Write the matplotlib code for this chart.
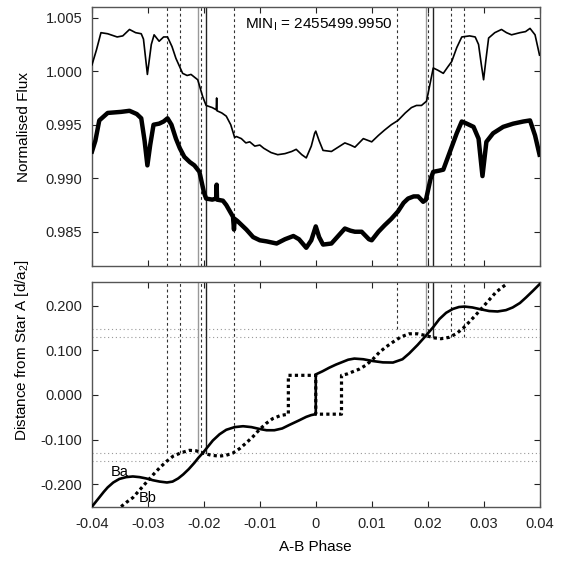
import numpy as np
import matplotlib
matplotlib.use('Agg')
import matplotlib.pyplot as plt

plt.rcParams['font.family'] = ['Liberation Sans', 'DejaVu Sans']
plt.rcParams['mathtext.fontset'] = 'custom'
plt.rcParams['mathtext.rm'] = 'Liberation Sans'
plt.rcParams['axes.unicode_minus'] = False

# Light curve, unbinned (thin) and binned (thick)
upper_phase = [-0.0400, -0.0392, -0.0384, -0.0372, -0.0355, -0.0345, -0.0333, -0.0322, -0.0312, -0.0308,
               -0.0301, -0.0294, -0.0289, -0.0280, -0.0272, -0.0265, -0.0257, -0.0250, -0.0238, -0.0230,
               -0.0223, -0.0211, -0.0202, -0.0196, -0.0185, -0.0178, -0.01772, -0.01765, -0.0168, -0.0160,
               -0.0152, -0.0145, -0.0142, -0.0133, -0.0125, -0.0118, -0.0109, -0.0100, -0.0093, -0.0080,
               -0.0068, -0.0055, -0.0043, -0.0035, -0.0025, -0.0017, -0.0008, -0.0002, 0.0000, 0.0006,
               0.0013, 0.0028, 0.0040, 0.0052, 0.0062, 0.0070, 0.0085, 0.0100, 0.0112, 0.0123,
               0.0135, 0.0147, 0.0160, 0.0171, 0.0180, 0.0189, 0.0198, 0.0210, 0.0218, 0.0228,
               0.0236, 0.0243, 0.0252, 0.0261, 0.0275, 0.0285, 0.0291, 0.0296, 0.0300, 0.0304,
               0.0309, 0.0320, 0.0332, 0.0341, 0.0350, 0.0365, 0.0375, 0.0383, 0.0392, 0.0400]
upper_flux = [1.0006, 1.0020, 1.0036, 1.0035, 1.0032, 1.0033, 1.0039, 1.0036, 1.0035, 1.0030,
              0.9997, 1.0025, 1.0034, 1.0028, 1.0032, 1.0032, 1.0023, 1.0012, 0.9998, 0.9996,
              0.9997, 0.9992, 0.9976, 0.9968, 0.9966, 0.9964, 0.9975, 0.9963, 0.9961, 0.9958,
              0.9950, 0.9938, 0.9939, 0.9937, 0.9933, 0.9934, 0.9930, 0.9931, 0.9928, 0.9924,
              0.9922, 0.9923, 0.9925, 0.9927, 0.9922, 0.9919, 0.9930, 0.9942, 0.9944, 0.9935,
              0.9926, 0.9925, 0.9929, 0.9933, 0.9931, 0.9929, 0.9937, 0.9934, 0.9940, 0.9945,
              0.9950, 0.9954, 0.9961, 0.9966, 0.9968, 0.9968, 0.9972, 1.0003, 1.0001, 0.9998,
              1.0004, 1.0009, 1.0022, 1.0032, 1.0033, 1.0032, 1.0025, 1.0006, 0.9992, 1.0010,
              1.0031, 1.0036, 1.0039, 1.0036, 1.0034, 1.0036, 1.0037, 1.0040, 1.0034, 1.0015]

lower_phase = [-0.0400, -0.0394, -0.0387, -0.0372, -0.0348, -0.0333, -0.0320, -0.0312, -0.0306, -0.0301,
               -0.0296, -0.0290, -0.0280, -0.0272, -0.0265, -0.0258, -0.0250, -0.0243, -0.0235, -0.0225,
               -0.0217, -0.0208, -0.0200, -0.0196, -0.0185, -0.0178, -0.01772, -0.01765, -0.0166, -0.0160,
               -0.0148, -0.01462, -0.0145, -0.0140, -0.0124, -0.0112, -0.0100, -0.0088, -0.0070, -0.0055,
               -0.0040, -0.0030, -0.0017, -0.0008, 0.0000, 0.0006, 0.0013, 0.0028, 0.0040, 0.0052,
               0.0062, 0.0070, 0.0082, 0.0095, 0.0100, 0.0112, 0.0123, 0.0135, 0.0147, 0.0157,
               0.0165, 0.0175, 0.0183, 0.0192, 0.0197, 0.0205, 0.0210, 0.0220, 0.0228, 0.0240,
               0.0252, 0.0261, 0.0270, 0.0282, 0.0291, 0.0298, 0.0305, 0.0317, 0.0335, 0.0353,
               0.0371, 0.0383, 0.0392, 0.0400]
lower_flux = [0.9925, 0.9935, 0.9954, 0.9961, 0.9962, 0.9963, 0.9960, 0.9956, 0.9935, 0.9912,
              0.9931, 0.9950, 0.9951, 0.9953, 0.9956, 0.9950, 0.9937, 0.9928, 0.9920, 0.9915,
              0.9912, 0.9906, 0.9887, 0.9881, 0.9880, 0.9881, 0.9894, 0.9880, 0.9879, 0.9875,
              0.9864, 0.9852, 0.9862, 0.9860, 0.9852, 0.9845, 0.9842, 0.9841, 0.9839, 0.9843,
              0.9846, 0.9843, 0.9835, 0.9842, 0.9855, 0.9845, 0.9838, 0.9839, 0.9846, 0.9853,
              0.9851, 0.9850, 0.9850, 0.9843, 0.9842, 0.9850, 0.9856, 0.9862, 0.9869, 0.9877,
              0.9881, 0.9883, 0.9883, 0.9878, 0.9880, 0.9899, 0.9906, 0.9907, 0.9908, 0.9925,
              0.9942, 0.9953, 0.9951, 0.9948, 0.9937, 0.9902, 0.9934, 0.9942, 0.9948, 0.9951,
              0.9953, 0.9954, 0.9940, 0.9922]

# Projected distance of Ba and Bb from star A
ba_phase = [-0.0400, -0.0393, -0.0386, -0.0379, -0.0372, -0.0362, -0.0351, -0.0339, -0.0327, -0.0315,
            -0.0303, -0.0291, -0.0279, -0.0266, -0.0256, -0.0246, -0.0237, -0.0227, -0.0217, -0.0210,
            -0.0202, -0.0193, -0.0184, -0.0172, -0.0160, -0.0145, -0.0130, -0.0115, -0.0101, -0.0088,
            -0.0074, -0.0060, -0.0047, -0.0030, -0.0017, -0.0008, 0.0000, 0.0000, 0.0012, 0.0024,
            0.0036, 0.0048, 0.0058, 0.0069, 0.0085, 0.0102, 0.0120, 0.0138, 0.0155, 0.0167,
            0.0182, 0.0197, 0.0210, 0.0221, 0.0233, 0.0245, 0.0256, 0.0266, 0.0280, 0.0292,
            0.0310, 0.0325, 0.0340, 0.0352, 0.0365, 0.0376, 0.0388, 0.0400]
ba_dist = [-0.250, -0.239, -0.228, -0.217, -0.207, -0.196, -0.188, -0.184, -0.1825, -0.184,
           -0.187, -0.191, -0.194, -0.196, -0.194, -0.187, -0.178, -0.166, -0.152, -0.141,
           -0.130, -0.116, -0.102, -0.088, -0.078, -0.072, -0.070, -0.072, -0.076, -0.079,
           -0.079, -0.075, -0.067, -0.057, -0.049, -0.045, -0.043, 0.046, 0.053, 0.061,
           0.068, 0.074, 0.079, 0.0815, 0.080, 0.076, 0.073, 0.0726, 0.080, 0.093,
           0.112, 0.133, 0.152, 0.170, 0.184, 0.1926, 0.197, 0.198, 0.196, 0.1926,
           0.188, 0.187, 0.190, 0.196, 0.206, 0.2185, 0.233, 0.248]

bb_phase = [-0.0348, -0.0338, -0.0327, -0.0315, -0.0303, -0.0291, -0.0279, -0.0267, -0.0255, -0.0240,
            -0.0226, -0.0214, -0.0202, -0.0187, -0.0172, -0.0160, -0.0148, -0.0136, -0.0124, -0.0112,
            -0.0101, -0.0089, -0.0077, -0.0063, -0.0049, -0.0049, 0.0000, 0.0000, 0.0046, 0.0046,
            0.0056, 0.0066, 0.0078, 0.0090, 0.0102, 0.0114, 0.0126, 0.0138, 0.0152, 0.0167,
            0.0182, 0.0197, 0.0211, 0.0224, 0.0238, 0.0251, 0.0263, 0.0274, 0.0286, 0.0298,
            0.0310, 0.0322, 0.0333, 0.0343]
bb_dist = [-0.250, -0.240, -0.230, -0.213, -0.196, -0.179, -0.163, -0.149, -0.137, -0.129,
           -0.124, -0.125, -0.130, -0.135, -0.137, -0.135, -0.130, -0.120, -0.107, -0.093,
           -0.078, -0.064, -0.053, -0.046, -0.043, 0.044, 0.044, -0.043, -0.043, 0.044,
           0.047, 0.052, 0.058, 0.067, 0.080, 0.096, 0.108, 0.1185, 0.130, 0.137,
           0.137, 0.133, 0.128, 0.126, 0.129, 0.137, 0.149, 0.163, 0.179, 0.196,
           0.213, 0.230, 0.241, 0.250]

# Event markers: phase, style, colour
event_phase = [-0.0266, -0.0243, -0.0210, -0.0205, -0.0196, -0.0146,
               0.0145, 0.0197, 0.0200, 0.0210, 0.0241, 0.0265]
event_kind = ['dot', 'dot', 'gray', 'dot', 'black', 'dot',
              'dot', 'gray', 'dot', 'black', 'dot', 'dot']
event_low = [-0.13, -0.13, -0.13, -0.13, -0.13, -0.13,
             0.147, 0.13, 0.13, 0.13, 0.13, 0.13]
hlines = [-0.147, -0.130, 0.130, 0.147]

xticks = [-0.04, -0.03, -0.02, -0.01, 0.0, 0.01, 0.02, 0.03, 0.04]
xticklabels = ['-0.04', '-0.03', '-0.02', '-0.01', '0', '0.01', '0.02', '0.03', '0.04']

fig = plt.figure(figsize=(5.69, 5.64), dpi=100)
ax1 = fig.add_axes([0.1617, 0.5284, 0.7865, 0.4592])
ax2 = fig.add_axes([0.1617, 0.1002, 0.7865, 0.3990])

styles = {'dot': dict(color='#333333', lw=0.8, ls=(0, (2.5, 2.5))),
          'gray': dict(color='#999999', lw=1.0, ls='-'),
          'black': dict(color='#222222', lw=1.0, ls='-')}


def ymap(ax, v):
    lo, hi = ax.get_ylim()
    return (v - lo) / (hi - lo)


for ax in (ax1, ax2):
    ax.set_xlim(-0.04, 0.04)
    ax.set_xticks(xticks)
    ax.tick_params(direction='in', length=4, width=0.8, top=True, right=True,
                   labelsize=10.5, pad=7, colors='#222222')
    for s in ax.spines.values():
        s.set_color('#555555')
        s.set_linewidth(1.0)

# top panel
ax1.set_ylim(0.9818, 1.0060)
ax1.set_yticks([0.985, 0.990, 0.995, 1.000, 1.005])
ax1.set_yticklabels(['%.3f' % v for v in [0.985, 0.990, 0.995, 1.000, 1.005]])
ax1.set_xticklabels([])
for p, k in zip(event_phase, event_kind):
    ax1.axvline(p, **styles[k], zorder=1)
ax1.plot(upper_phase, upper_flux, color='black', lw=1.2, zorder=3)
ax1.plot(lower_phase, lower_flux, color='black', lw=3.2, zorder=3, solid_joinstyle='round')
ax1.text(-0.0127, 1.00434, 'MIN$_\\mathrm{I}$ = 2455499.9950', fontsize=11, ha='left', va='center')
ax1.set_ylabel('Normalised Flux', fontsize=11)
ax1.yaxis.set_label_coords(-0.137, 0.537)

# bottom panel
ax2.set_ylim(-0.252, 0.252)
ax2.set_yticks([-0.2, -0.1, 0.0, 0.1, 0.2])
ax2.set_yticklabels(['%.3f' % v for v in [-0.2, -0.1, 0.0, 0.1, 0.2]])
ax2.set_xticklabels(xticklabels)
for h in hlines:
    ax2.axhline(h, color='#999999', lw=0.8, ls=(0, (1, 2.5)), zorder=1)
for p, k, lo in zip(event_phase, event_kind, event_low):
    ax2.axvline(p, ymin=ymap(ax2, lo), ymax=1, **styles[k], zorder=1)
ax2.plot(ba_phase, ba_dist, color='black', lw=1.9, zorder=3, solid_joinstyle='round')
ax2.plot(bb_phase, bb_dist, color='black', lw=2.3, ls=(0, (1, 1)), zorder=3)
ax2.text(-0.0351, -0.172, 'Ba', fontsize=10.5, ha='center', va='center')
ax2.text(-0.0300, -0.231, 'Bb', fontsize=10.5, ha='center', va='center')
ax2.set_ylabel('Distance from Star A [d/a$_2$]', fontsize=11)
ax2.yaxis.set_label_coords(-0.137, 0.70)
ax2.set_xlabel('A-B Phase', fontsize=11, labelpad=6)

fig.savefig('out.png', dpi=100)
